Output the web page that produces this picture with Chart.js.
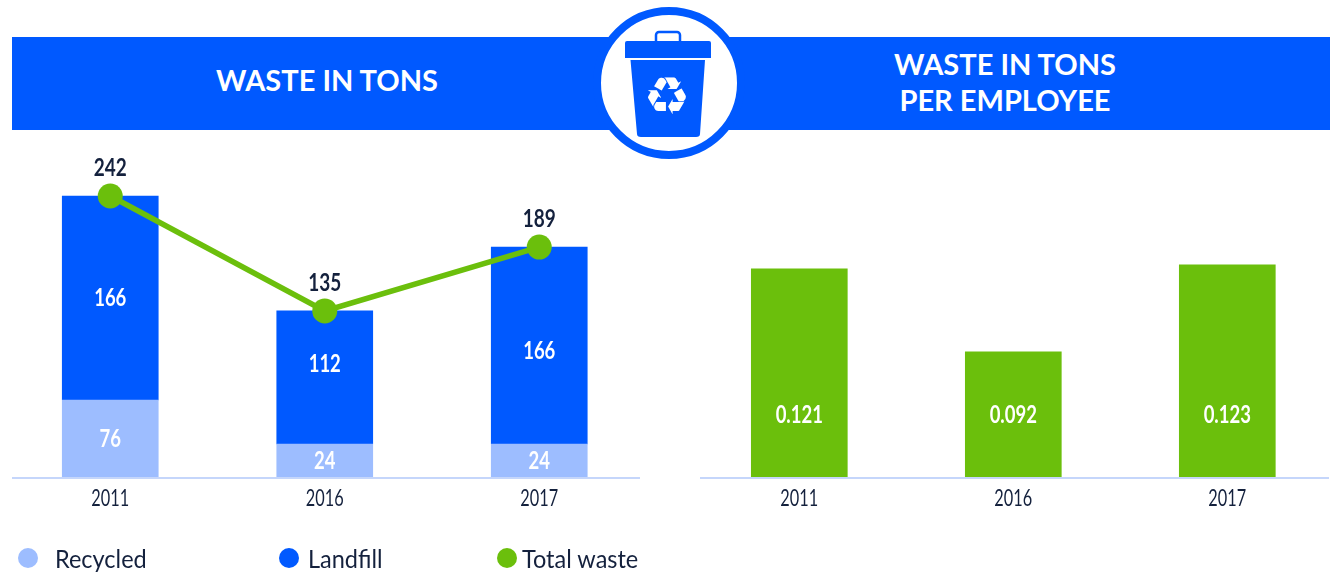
<!DOCTYPE html>
<html>
<head>
<meta charset="utf-8">
<script src="https://cdn.jsdelivr.net/npm/chart.js@4"></script>
<style>
  html, body { margin: 0; padding: 0; background: #fff; }
  #page { position: relative; width: 1337px; height: 575px; overflow: hidden; font-family: Lato, sans-serif; color: #14213d; }
  #page canvas { position: absolute; top: 0; }
  .band { position: absolute; left: 12px; top: 37px; width: 1318px; height: 93px; background: #0059ff; }
  .title { position: absolute; color: #fff; font-weight: 700; font-size: 29px; line-height: 36px; text-align: center; transform: translateX(-50%); white-space: nowrap; }
  .axis-line { position: absolute; top: 477px; height: 2px; background: #c5d6fb; }
  .badge { position: absolute; left: 593px; top: 7px; width: 152px; height: 152px; }
  .legend-dot { position: absolute; top: 548px; width: 20px; height: 20px; border-radius: 50%; }
  .legend-text { position: absolute; top: 542px; font-size: 25px; line-height: 32px; white-space: nowrap; transform: scaleX(0.94); transform-origin: left center; }
</style>
</head>
<body>
<div id="page">
  <div class="band"></div>
  <div class="title" style="left:327px;top:62px">WASTE IN TONS</div>
  <div class="title" style="left:1005px;top:46px">WASTE IN TONS<br>PER EMPLOYEE</div>
  <svg class="badge" viewBox="593 7 152 152">
    <circle cx="669" cy="83" r="72" fill="#fff" stroke="#0059ff" stroke-width="8"/>
    <rect x="656" y="32" width="24" height="12" rx="3" fill="none" stroke="#0059ff" stroke-width="2.5"/>
    <path d="M627 41H709Q711 41 711 43V58H625V43Q625 41 627 41Z" fill="#0059ff"/>
    <path d="M630.5 60H705L700 134Q700 137 696 137H641Q637 137 637 134Z" fill="#0059ff"/>
    <text x="667" y="114" text-anchor="middle" fill="#fff" font-family="DejaVu Sans" font-size="52">♻</text>
  </svg>
  <div class="axis-line" style="left:12px;width:628px"></div>
  <div class="axis-line" style="left:700px;width:629px"></div>
  <canvas id="chart-tons" style="left:0"></canvas>
  <canvas id="chart-employee" style="left:680px"></canvas>
  <div id="legend"></div>
</div>
<script>
const BLUE = '#0059ff';
const LIGHT_BLUE = '#9dbdff';
const GREEN = '#6bbf0c';
const INK = '#14213d';

const years = ['2011', '2016', '2017'];

//Printed numbers, as they read in the picture
const recycledLabels = ['76', '24', '24'];
const landfillLabels = ['166', '112', '166'];
const totalLabels    = ['242', '135', '189'];
const perEmployeeLabels = ['0.121', '0.092', '0.123'];

//Drawn heights: the source graphic is not to scale (24 + 166 is printed as
//189, 0.092 is drawn far too short), so bars are read off the picture, in
//the units of each panel's axis, and the printed numbers go on top of them.
const recycledDrawn = [66.3, 28.4, 28.4];
const landfillDrawn = [175.7, 114.6, 169.7];
const totalDrawn    = [242, 143, 198];
const perEmployeeDrawn = [0.121, 0.0727, 0.1233];

const legendNames  = ['Recycled', 'Landfill', 'Total waste'];
const legendColors = [LIGHT_BLUE, BLUE, GREEN];
const legendDotX   = [18, 279, 497];
const legendTextX  = [55, 308, 522];

legendNames.forEach((name, i) =>
{
    const dot = document.createElement('div');
    dot.className = 'legend-dot';
    dot.style.left = legendDotX[i] + 'px';
    dot.style.background = legendColors[i];
    const txt = document.createElement('div');
    txt.className = 'legend-text';
    txt.style.left = legendTextX[i] + 'px';
    txt.textContent = name;
    document.getElementById('legend').append(dot, txt);
});

//The source type is condensed and no installed face is, so squeeze it.
function squeezedText(c, text, x, y, font, color, squeeze)
{
    c.save();
    c.translate(x, y);
    c.scale(squeeze, 1);
    c.font = font;
    c.fillStyle = color;
    c.textAlign = 'center';
    c.textBaseline = 'middle';
    c.fillText(text, 0, 0);
    c.restore();
}

//Number labels: centred in a bar, or sitting above a line point. Year ticks too.
const valueLabels = {
    id: 'value-labels',
    afterDatasetsDraw(chart)
    {
        const c = chart.ctx;
        chart.data.datasets.forEach((ds, di) =>
        {
            chart.getDatasetMeta(di).data.forEach((el, i) =>
            {
                if (ds.type === 'line')
                    squeezedText(c, ds.printed[i], el.x, el.y - 28, 'bold 25px Lato', INK, 0.76);
                else
                {
                    const shift = ds.labelShift ? ds.labelShift[i] : 0;
                    const y = ds.labelY ? ds.labelY : (el.y + el.base) / 2 + shift;
                    squeezedText(c, ds.printed[i], el.x, y, 'bold 25px Lato', '#fff', 0.74);
                }
            });
        });
        const xs = chart.scales.x;
        chart.data.labels.forEach((label, i) =>
        {
            squeezedText(c, label, xs.getPixelForValue(i), 498, '24px Lato', INK, 0.68);
        });
    },
};

function panelOptions(yMax, padLeft, padRight)
{
    return {
        responsive: false,
        animation: false,
        layout: { autoPadding: false, padding: { left: padLeft, right: padRight, top: 160, bottom: 0 } },
        plugins: { legend: { display: false }, tooltip: { enabled: false } },
        scales: {
            x: {
                stacked: true,
                grid: { display: false },
                border: { display: false },
                ticks: { display: false },
                afterFit: (s) => { s.height = 98; },
            },
            y: { stacked: true, display: false, min: 0, max: yMax },
        },
    };
}

function sizeCanvas(id, w, h)
{
    const el = document.getElementById(id);
    el.width = w;
    el.height = h;
    return el;
}

new Chart(sizeCanvas('chart-tons', 660, 575), {
    data: {
        labels: years,
        datasets: [
            { type: 'line', data: totalDrawn, printed: totalLabels, order: 0, clip: false,
              borderColor: GREEN, borderWidth: 5.5, tension: 0,
              pointRadius: 12.5, pointBackgroundColor: GREEN, pointBorderWidth: 0 },
            { type: 'bar', data: recycledDrawn, printed: recycledLabels, order: 1,
              backgroundColor: LIGHT_BLUE, barThickness: 96 },
            //the 2016 and 2017 landfill numbers are off-centre in the source
            { type: 'bar', data: landfillDrawn, printed: landfillLabels, labelShift: [0, -14, 5], order: 2,
              backgroundColor: BLUE, barThickness: 96 },
        ],
    },
    options: panelOptions(273, 3, 13.5),
    plugins: [valueLabels],
});

new Chart(sizeCanvas('chart-employee', 657, 575), {
    data: {
        labels: years,
        datasets: [
            { type: 'bar', data: perEmployeeDrawn, printed: perEmployeeLabels, labelY: 415,
              backgroundColor: GREEN, barThickness: 96 },
        ],
    },
    options: panelOptions(0.1843, 12.3, 2.7),
    plugins: [valueLabels],
});
</script>
</body>
</html>
